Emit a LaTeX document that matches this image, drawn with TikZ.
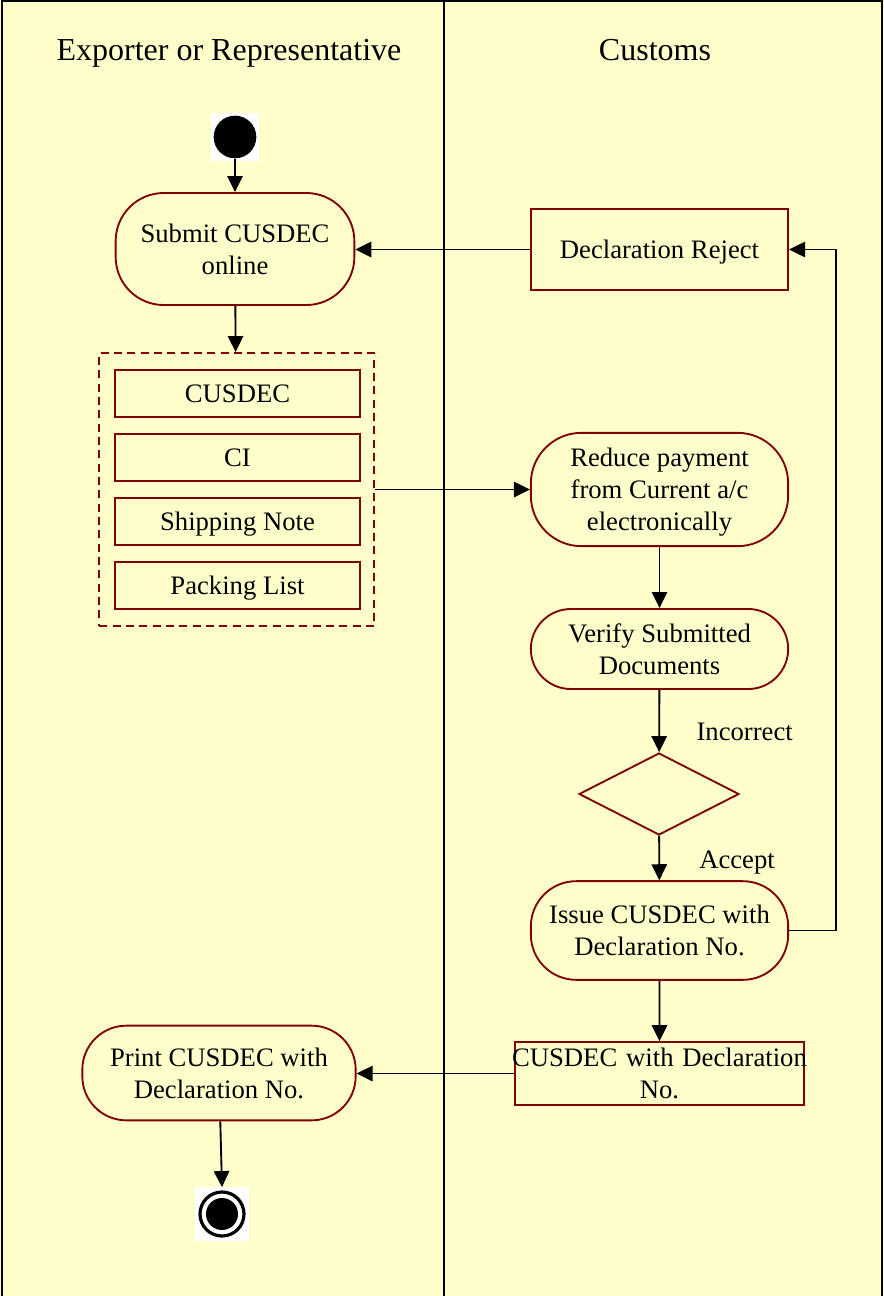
\documentclass[tikz,border=0pt]{standalone}
\usepackage{fontspec}
\setmainfont{Liberation Serif}
\usetikzlibrary{shapes.geometric, arrows.meta, positioning}
\definecolor{lanebg}{RGB}{255,255,204}
\definecolor{boxred}{RGB}{128,0,0}

\begin{document}
\begin{tikzpicture}[x=0.75pt, y=-0.75pt,
    lane/.style={font=\fontsize{24}{28}\selectfont, text depth=0pt},
    act/.style={draw=boxred, line width=1.4pt, rounded corners=#1, align=center,
        font=\fontsize{20}{24}\selectfont, inner sep=1pt, text depth=0pt},
    doc/.style={draw=boxred, line width=1.4pt, align=center,
        font=\fontsize{20}{24}\selectfont, inner sep=1pt, text depth=0pt},
    flow/.style={-{Triangle[length=12pt, width=11.5pt]}, line width=1.4pt},
    lbl/.style={font=\fontsize{20}{24}\selectfont}]

        % Background and swimlanes
        \fill[lanebg] (0,0) rectangle (884,1296);
        \useasboundingbox (0,0) rectangle (884,1296);
        \draw[line width=1.5pt] (2,1296) -- (2,1) -- (882,1) -- (882,1296);
        \draw[line width=1.5pt] (444,1) -- (444,1296);
        \node[lane] (lexp) at (229,50) {Exporter or Representative};
        \node[lane] (lcus) at (655,50) {Customs};

        % Start
        \node[fill=white, minimum size=36pt, inner sep=0] (startbg) at (235,137) {};
        \node[circle, fill=black, minimum size=32pt, inner sep=0] (start) at (235,137) {};

        % Exporter side
        \node[act=36pt, minimum width=179pt, minimum height=84pt] (submit) at (235,249) {Submit CUSDEC\\online};
        \node[draw=boxred, line width=1.2pt, dashed, dash pattern=on 6pt off 4pt,
            minimum width=206pt, minimum height=205pt] (docs) at (236.5,489.5) {};
        \node[doc, minimum width=184pt, minimum height=35pt] (cusdec) at (237.5,393.5) {CUSDEC};
        \node[doc, minimum width=184pt, minimum height=35pt] (ci) at (237.5,457.5) {CI};
        \node[doc, minimum width=184pt, minimum height=35pt] (ship) at (237.5,521.5) {Shipping Note};
        \node[doc, minimum width=184pt, minimum height=35pt] (pack) at (237.5,585.5) {Packing List};
        \node[act=33pt, minimum width=205pt, minimum height=71pt] (print) at (219,1073) {Print CUSDEC with\\Declaration No.};

        % End
        \node[fill=white, minimum size=40pt, inner sep=0] (endbg) at (222,1214) {};
        \node[circle, draw=black, line width=2.4pt, minimum size=33pt, inner sep=0] (finish) at (222,1214) {};
        \node[circle, fill=black, minimum size=24pt, inner sep=0] (finishdot) at (222,1214) {};

        % Customs side
        \node[doc, minimum width=193pt, minimum height=61pt] (reject) at (659.5,249.5) {Declaration Reject};
        \node[act=38pt, minimum width=193pt, minimum height=85pt] (reduce) at (659.5,489.5) {Reduce payment\\from Current a/c\\electronically};
        \node[act=30pt, minimum width=193pt, minimum height=60pt] (verify) at (659.5,649) {Verify Submitted\\Documents};
        \node[diamond, draw=boxred, line width=1.4pt, minimum width=120pt, minimum height=61.5pt, inner sep=0] (check) at (659,794) {};
        \node[act=34pt, minimum width=193pt, minimum height=74pt] (issue) at (659.5,930.5) {Issue CUSDEC with\\Declaration No.};
        \node[draw=boxred, line width=1.4pt, align=center, font=\fontsize{20}{24}\selectfont,
            text width=223pt, inner xsep=-3pt, inner ysep=1pt, minimum height=47pt] (cusdecno) at (659.5,1073.5) {CUSDEC with Declaration\\No.};

        % Flows
        \draw[flow] (start) -- (submit);
        \draw[flow] (submit) -- (docs);
        \draw[flow] (docs.east) -- (reduce.west);
        \draw[flow] (reduce) -- (verify);
        \draw[flow] (verify) -- (check) node[lbl, pos=0.68, right=24pt] (incorrect) {Incorrect};
        \draw[flow] (check) -- (issue) node[lbl, pos=0.6, right=26pt] (accept) {Accept};
        \coordinate (loop) at (836,930);
        \draw[flow] (issue.east) -- (issue.east -| loop) |- (reject.east);
        \draw[flow] (reject.west) -- (reject.west -| submit.east);
        \draw[flow] (issue) -- (cusdecno);
        \draw[flow] (cusdecno.west) -- (cusdecno.west -| print.east);
        \draw[flow] (print) -- (endbg.north);

    \end{tikzpicture}
\end{document}
